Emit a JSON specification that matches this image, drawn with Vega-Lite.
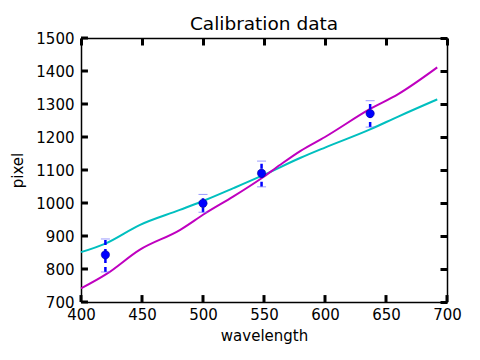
{
  "$schema": "https://vega.github.io/schema/vega-lite/v6.json",
  "autosize": "none",
  "padding": {"left": 81, "top": 38, "right": 33, "bottom": 58},
  "width": 366,
  "height": 264,
  "background": "white",
  "title": {"text": "Calibration data", "font": "DejaVu Sans", "fontSize": 18.5, "fontWeight": "normal", "color": "black", "offset": -2},
  "config": {
    "view": {"stroke": null},
    "axis": {"grid": false, "domainColor": "black", "domainWidth": 1.5, "tickColor": "black", "tickWidth": 3, "tickSize": -7, "labelFlush": false, "labelOverlap": false, "labelFont": "DejaVu Sans", "labelFontSize": 15, "labelColor": "black", "titleFont": "DejaVu Sans", "titleFontSize": 15, "titleFontWeight": "normal", "titleColor": "black"}
  },
  "resolve": {"axis": {"x": "independent", "y": "independent"}},
  "datasets": {
    "lines": [
      {"wavelength": 400, "pixel": 851, "series": "fit1"},
      {"wavelength": 420, "pixel": 877, "series": "fit1"},
      {"wavelength": 448, "pixel": 933, "series": "fit1"},
      {"wavelength": 481, "pixel": 979, "series": "fit1"},
      {"wavelength": 502, "pixel": 1009, "series": "fit1"},
      {"wavelength": 525, "pixel": 1045, "series": "fit1"},
      {"wavelength": 548, "pixel": 1082, "series": "fit1"},
      {"wavelength": 580, "pixel": 1137, "series": "fit1"},
      {"wavelength": 600, "pixel": 1168, "series": "fit1"},
      {"wavelength": 637, "pixel": 1223, "series": "fit1"},
      {"wavelength": 660, "pixel": 1262, "series": "fit1"},
      {"wavelength": 692, "pixel": 1314, "series": "fit1"},
      {"wavelength": 400, "pixel": 741, "series": "fit2"},
      {"wavelength": 421, "pixel": 785, "series": "fit2"},
      {"wavelength": 448, "pixel": 858, "series": "fit2"},
      {"wavelength": 481, "pixel": 918, "series": "fit2"},
      {"wavelength": 502, "pixel": 969, "series": "fit2"},
      {"wavelength": 525, "pixel": 1020, "series": "fit2"},
      {"wavelength": 548, "pixel": 1075, "series": "fit2"},
      {"wavelength": 563, "pixel": 1115, "series": "fit2"},
      {"wavelength": 580, "pixel": 1158, "series": "fit2"},
      {"wavelength": 600, "pixel": 1200, "series": "fit2"},
      {"wavelength": 637, "pixel": 1285, "series": "fit2"},
      {"wavelength": 660, "pixel": 1330, "series": "fit2"},
      {"wavelength": 692, "pixel": 1411, "series": "fit2"}
    ],
    "points": [
      {"wavelength": 420, "pixel": 843, "lo": 791, "hi": 891},
      {"wavelength": 500, "pixel": 999, "lo": 972, "hi": 1026},
      {"wavelength": 548, "pixel": 1090, "lo": 1049, "hi": 1127},
      {"wavelength": 637, "pixel": 1271, "lo": 1230, "hi": 1310}
    ],
    "xticks": [
      {"wavelength": 400}, {"wavelength": 450}, {"wavelength": 500}, {"wavelength": 550},
      {"wavelength": 600}, {"wavelength": 650}, {"wavelength": 700}
    ],
    "yticks": [
      {"pixel": 700}, {"pixel": 800}, {"pixel": 900}, {"pixel": 1000}, {"pixel": 1100},
      {"pixel": 1200}, {"pixel": 1300}, {"pixel": 1400}, {"pixel": 1500}
    ]
  },
  "layer": [
    {
      "data": {"name": "lines"},
      "mark": {"type": "line", "strokeWidth": 2, "interpolate": "monotone"},
      "encoding": {
        "x": {"field": "wavelength", "type": "quantitative", "scale": {"domain": [400, 700], "nice": false, "zero": false}, "axis": {"orient": "bottom", "title": "wavelength", "format": "d", "values": [400, 450, 500, 550, 600, 650, 700], "ticks": false, "labelPadding": 5, "titlePadding": 6}},
        "y": {"field": "pixel", "type": "quantitative", "scale": {"domain": [700, 1500], "nice": false, "zero": false}, "axis": {"orient": "left", "title": "pixel", "format": "d", "values": [700, 800, 900, 1000, 1100, 1200, 1300, 1400, 1500], "ticks": false, "labelPadding": 7, "titlePadding": 10}},
        "color": {"field": "series", "type": "nominal", "scale": {"domain": ["fit1", "fit2"], "range": ["#00bfbf", "#bf00bf"]}, "legend": null}
      }
    },
    {
      "data": {"name": "lines"},
      "mark": {"type": "line", "opacity": 0},
      "encoding": {
        "x": {"field": "wavelength", "type": "quantitative", "axis": {"orient": "top", "title": null, "labels": false, "values": [400, 450, 500, 550, 600, 650, 700]}},
        "y": {"field": "pixel", "type": "quantitative", "axis": {"orient": "right", "title": null, "labels": false, "values": [700, 800, 900, 1000, 1100, 1200, 1300, 1400, 1500]}}
      }
    },
    {
      "data": {"name": "xticks"},
      "mark": {"type": "rule", "color": "black", "strokeWidth": 3},
      "encoding": {
        "x": {"field": "wavelength", "type": "quantitative", "axis": null},
        "y": {"datum": 700, "type": "quantitative", "axis": null},
        "y2": {"datum": 721}
      }
    },
    {
      "data": {"name": "yticks"},
      "mark": {"type": "rule", "color": "black", "strokeWidth": 3},
      "encoding": {
        "y": {"field": "pixel", "type": "quantitative", "axis": null},
        "x": {"datum": 400, "type": "quantitative", "axis": null},
        "x2": {"datum": 405.7}
      }
    },
    {
      "data": {"name": "points"},
      "mark": {"type": "rule", "color": "#0000ff", "strokeWidth": 2.5, "strokeDash": [5, 4]},
      "encoding": {
        "x": {"field": "wavelength", "type": "quantitative", "axis": null},
        "y": {"field": "lo", "type": "quantitative", "axis": null},
        "y2": {"field": "hi"}
      }
    },
    {
      "data": {"name": "points"},
      "mark": {"type": "tick", "orient": "horizontal", "color": "#6f6fff", "size": 9, "thickness": 1},
      "encoding": {
        "x": {"field": "wavelength", "type": "quantitative", "axis": null},
        "y": {"field": "lo", "type": "quantitative", "axis": null}
      }
    },
    {
      "data": {"name": "points"},
      "mark": {"type": "tick", "orient": "horizontal", "color": "#6f6fff", "size": 9, "thickness": 1},
      "encoding": {
        "x": {"field": "wavelength", "type": "quantitative", "axis": null},
        "y": {"field": "hi", "type": "quantitative", "axis": null}
      }
    },
    {
      "data": {"name": "points"},
      "mark": {"type": "point", "filled": true, "color": "#0000ff", "size": 70, "opacity": 1, "stroke": "#00007f", "strokeWidth": 0.5},
      "encoding": {
        "x": {"field": "wavelength", "type": "quantitative", "axis": null},
        "y": {"field": "pixel", "type": "quantitative", "axis": null}
      }
    }
  ]
}
